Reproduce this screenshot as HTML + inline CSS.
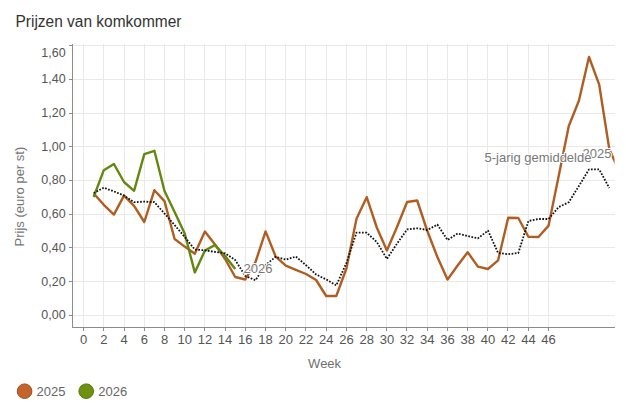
<!DOCTYPE html>
<html><head><meta charset="utf-8"><style>
html,body{margin:0;padding:0;background:#fff;}
body{width:626px;height:417px;overflow:hidden;}
svg{display:block;font-family:"Liberation Sans",sans-serif;}
</style></head><body>
<svg width="626" height="417" viewBox="0 0 626 417">
<rect width="626" height="417" fill="#fff"/>
<text transform="translate(15.5,27.2) scale(0.993,1)" font-size="15.6" fill="#333">Prijzen van komkommer</text>
<g stroke="#e9e9e9" stroke-width="1" shape-rendering="crispEdges">
<line x1="72.5" y1="315.5" x2="614.5" y2="315.5"/><line x1="72.5" y1="281.5" x2="614.5" y2="281.5"/><line x1="72.5" y1="247.5" x2="614.5" y2="247.5"/><line x1="72.5" y1="214.5" x2="614.5" y2="214.5"/><line x1="72.5" y1="180.5" x2="614.5" y2="180.5"/><line x1="72.5" y1="146.5" x2="614.5" y2="146.5"/><line x1="72.5" y1="113.5" x2="614.5" y2="113.5"/><line x1="72.5" y1="79.5" x2="614.5" y2="79.5"/><line x1="72.5" y1="45.5" x2="614.5" y2="45.5"/>
<line x1="83.6" y1="43.5" x2="83.6" y2="327.5"/><line x1="103.8" y1="43.5" x2="103.8" y2="327.5"/><line x1="124.0" y1="43.5" x2="124.0" y2="327.5"/><line x1="144.2" y1="43.5" x2="144.2" y2="327.5"/><line x1="164.4" y1="43.5" x2="164.4" y2="327.5"/><line x1="184.6" y1="43.5" x2="184.6" y2="327.5"/><line x1="204.8" y1="43.5" x2="204.8" y2="327.5"/><line x1="225.0" y1="43.5" x2="225.0" y2="327.5"/><line x1="245.2" y1="43.5" x2="245.2" y2="327.5"/><line x1="265.4" y1="43.5" x2="265.4" y2="327.5"/><line x1="285.6" y1="43.5" x2="285.6" y2="327.5"/><line x1="305.8" y1="43.5" x2="305.8" y2="327.5"/><line x1="326.0" y1="43.5" x2="326.0" y2="327.5"/><line x1="346.2" y1="43.5" x2="346.2" y2="327.5"/><line x1="366.4" y1="43.5" x2="366.4" y2="327.5"/><line x1="386.6" y1="43.5" x2="386.6" y2="327.5"/><line x1="406.8" y1="43.5" x2="406.8" y2="327.5"/><line x1="427.0" y1="43.5" x2="427.0" y2="327.5"/><line x1="447.2" y1="43.5" x2="447.2" y2="327.5"/><line x1="467.4" y1="43.5" x2="467.4" y2="327.5"/><line x1="487.6" y1="43.5" x2="487.6" y2="327.5"/><line x1="507.8" y1="43.5" x2="507.8" y2="327.5"/><line x1="528.0" y1="43.5" x2="528.0" y2="327.5"/><line x1="548.2" y1="43.5" x2="548.2" y2="327.5"/>
</g>
<g stroke="#8c8c8c" stroke-width="1" shape-rendering="crispEdges">
<line x1="72.5" y1="43.5" x2="72.5" y2="327.5"/>
<line x1="72.5" y1="327.5" x2="614.5" y2="327.5"/>
<line x1="68.5" y1="315.5" x2="72.5" y2="315.5"/><line x1="68.5" y1="281.5" x2="72.5" y2="281.5"/><line x1="68.5" y1="247.5" x2="72.5" y2="247.5"/><line x1="68.5" y1="214.5" x2="72.5" y2="214.5"/><line x1="68.5" y1="180.5" x2="72.5" y2="180.5"/><line x1="68.5" y1="146.5" x2="72.5" y2="146.5"/><line x1="68.5" y1="113.5" x2="72.5" y2="113.5"/><line x1="68.5" y1="79.5" x2="72.5" y2="79.5"/><line x1="68.5" y1="45.5" x2="72.5" y2="45.5"/>
<line x1="83.6" y1="327.5" x2="83.6" y2="330.5"/><line x1="103.8" y1="327.5" x2="103.8" y2="330.5"/><line x1="124.0" y1="327.5" x2="124.0" y2="330.5"/><line x1="144.2" y1="327.5" x2="144.2" y2="330.5"/><line x1="164.4" y1="327.5" x2="164.4" y2="330.5"/><line x1="184.6" y1="327.5" x2="184.6" y2="330.5"/><line x1="204.8" y1="327.5" x2="204.8" y2="330.5"/><line x1="225.0" y1="327.5" x2="225.0" y2="330.5"/><line x1="245.2" y1="327.5" x2="245.2" y2="330.5"/><line x1="265.4" y1="327.5" x2="265.4" y2="330.5"/><line x1="285.6" y1="327.5" x2="285.6" y2="330.5"/><line x1="305.8" y1="327.5" x2="305.8" y2="330.5"/><line x1="326.0" y1="327.5" x2="326.0" y2="330.5"/><line x1="346.2" y1="327.5" x2="346.2" y2="330.5"/><line x1="366.4" y1="327.5" x2="366.4" y2="330.5"/><line x1="386.6" y1="327.5" x2="386.6" y2="330.5"/><line x1="406.8" y1="327.5" x2="406.8" y2="330.5"/><line x1="427.0" y1="327.5" x2="427.0" y2="330.5"/><line x1="447.2" y1="327.5" x2="447.2" y2="330.5"/><line x1="467.4" y1="327.5" x2="467.4" y2="330.5"/><line x1="487.6" y1="327.5" x2="487.6" y2="330.5"/><line x1="507.8" y1="327.5" x2="507.8" y2="330.5"/><line x1="528.0" y1="327.5" x2="528.0" y2="330.5"/><line x1="548.2" y1="327.5" x2="548.2" y2="330.5"/>
</g>
<g font-size="13.2" fill="#555" text-anchor="end">
<text transform="translate(65.6,319.4) scale(0.945,1)">0,00</text><text transform="translate(65.6,285.6) scale(0.945,1)">0,20</text><text transform="translate(65.6,251.9) scale(0.945,1)">0,40</text><text transform="translate(65.6,218.2) scale(0.945,1)">0,60</text><text transform="translate(65.6,184.4) scale(0.945,1)">0,80</text><text transform="translate(65.6,150.7) scale(0.945,1)">1,00</text><text transform="translate(65.6,116.9) scale(0.945,1)">1,20</text><text transform="translate(65.6,83.2) scale(0.945,1)">1,40</text><text transform="translate(65.6,56.9) scale(0.945,1)">1,60</text>
</g>
<g font-size="13" fill="#555" text-anchor="middle">
<text x="83.6" y="343.8">0</text><text x="103.8" y="343.8">2</text><text x="124.0" y="343.8">4</text><text x="144.3" y="343.8">6</text><text x="164.5" y="343.8">8</text><text x="184.7" y="343.8">10</text><text x="204.9" y="343.8">12</text><text x="225.1" y="343.8">14</text><text x="245.3" y="343.8">16</text><text x="265.6" y="343.8">18</text><text x="285.8" y="343.8">20</text><text x="306.0" y="343.8">22</text><text x="326.2" y="343.8">24</text><text x="346.4" y="343.8">26</text><text x="366.7" y="343.8">28</text><text x="386.9" y="343.8">30</text><text x="407.1" y="343.8">32</text><text x="427.3" y="343.8">34</text><text x="447.5" y="343.8">36</text><text x="467.7" y="343.8">38</text><text x="488.0" y="343.8">40</text><text x="508.2" y="343.8">42</text><text x="528.4" y="343.8">44</text><text x="548.6" y="343.8">46</text>
</g>
<text transform="translate(23.7,196.6) rotate(-90)" text-anchor="middle" font-size="13" fill="#767676">Prijs (euro per st)</text>
<text x="324.6" y="368.2" text-anchor="middle" font-size="13" fill="#707070">Week</text>
<defs><clipPath id="pc"><rect x="72.5" y="23.5" width="542.0" height="304.0"/></clipPath></defs>
<g clip-path="url(#pc)" fill="none" stroke-linejoin="round">
<path d="M93.7,193.5 L103.8,204.8 L113.9,214.6 L124.0,195.6 L134.1,205.8 L144.3,222.0 L154.4,190.2 L164.5,201.1 L174.6,239.0 L184.7,246.6 L194.8,253.8 L204.9,231.6 L215.0,244.5 L225.1,259.0 L235.2,277.0 L245.3,279.5 L255.5,262.0 L265.6,231.4 L275.7,256.6 L285.8,265.6 L295.9,269.8 L306.0,274.0 L316.1,280.0 L326.2,296.0 L336.3,296.0 L346.4,268.5 L356.5,218.8 L366.7,197.2 L376.8,227.5 L386.9,250.5 L397.0,227.0 L407.1,202.0 L417.2,200.5 L427.3,231.0 L437.4,257.0 L447.5,279.6 L457.6,265.5 L467.7,252.2 L477.9,266.6 L488.0,269.0 L498.1,260.4 L508.2,217.7 L518.3,218.0 L528.4,236.8 L538.5,237.0 L548.6,225.6 L558.7,176.0 L568.8,126.0 L578.9,100.8 L589.0,57.0 L599.2,84.7 L609.3,149.0 L619.4,172.0" stroke="#b05d22" stroke-width="2.4" stroke-linecap="butt"/>
<path d="M93.7,197.0 L103.8,170.2 L113.9,164.0 L124.0,182.0 L134.1,190.8 L144.3,154.1 L154.4,150.8 L164.5,191.0 L174.6,212.0 L184.7,233.5 L194.8,272.4 L204.9,250.6 L215.0,245.0 L225.1,256.0 L235.2,269.0" stroke="#64870f" stroke-width="2.4" stroke-linecap="butt"/>
<path d="M93.7,193.0 L103.8,187.7 L113.9,191.4 L124.0,195.6 L134.1,202.2 L144.3,201.6 L154.4,202.2 L164.5,213.5 L174.6,225.0 L184.7,237.0 L194.8,249.5 L204.9,250.3 L215.0,251.9 L225.1,253.3 L235.2,260.0 L245.3,276.0 L255.5,280.3 L265.6,265.0 L275.7,256.8 L285.8,259.6 L295.9,256.6 L306.0,265.2 L316.1,274.5 L326.2,279.4 L336.3,285.4 L346.4,263.0 L356.5,232.6 L366.7,232.7 L376.8,242.0 L386.9,258.9 L397.0,243.7 L407.1,229.4 L417.2,228.3 L427.3,230.0 L437.4,224.6 L447.5,240.0 L457.6,233.5 L467.7,236.0 L477.9,238.4 L488.0,230.6 L498.1,253.0 L508.2,254.2 L518.3,253.0 L528.4,221.0 L538.5,219.0 L548.6,219.0 L558.7,207.0 L568.8,202.2 L578.9,186.0 L589.0,169.4 L599.2,169.4 L609.3,188.0" stroke="#111" stroke-width="1.8" stroke-dasharray="1.7,1.5" stroke-linecap="butt"/>
</g>
<g font-size="13" fill="#777" stroke="#fff" stroke-width="2" stroke-linejoin="round" paint-order="stroke">
<text x="582.5" y="158.1">2025</text>
<text x="484.5" y="161.6">5-jarig gemiddelde</text>
<text x="243.5" y="273.4">2026</text>
</g>
<circle cx="24.6" cy="391.2" r="7.3" fill="#c4632b" stroke="#9a4f1c" stroke-width="1"/>
<text x="36.5" y="395.7" font-size="13" fill="#666">2025</text>
<circle cx="86.2" cy="391.2" r="7.3" fill="#6e910f" stroke="#55730a" stroke-width="1"/>
<text x="98.2" y="395.7" font-size="13" fill="#666">2026</text>
</svg>
</body></html>
